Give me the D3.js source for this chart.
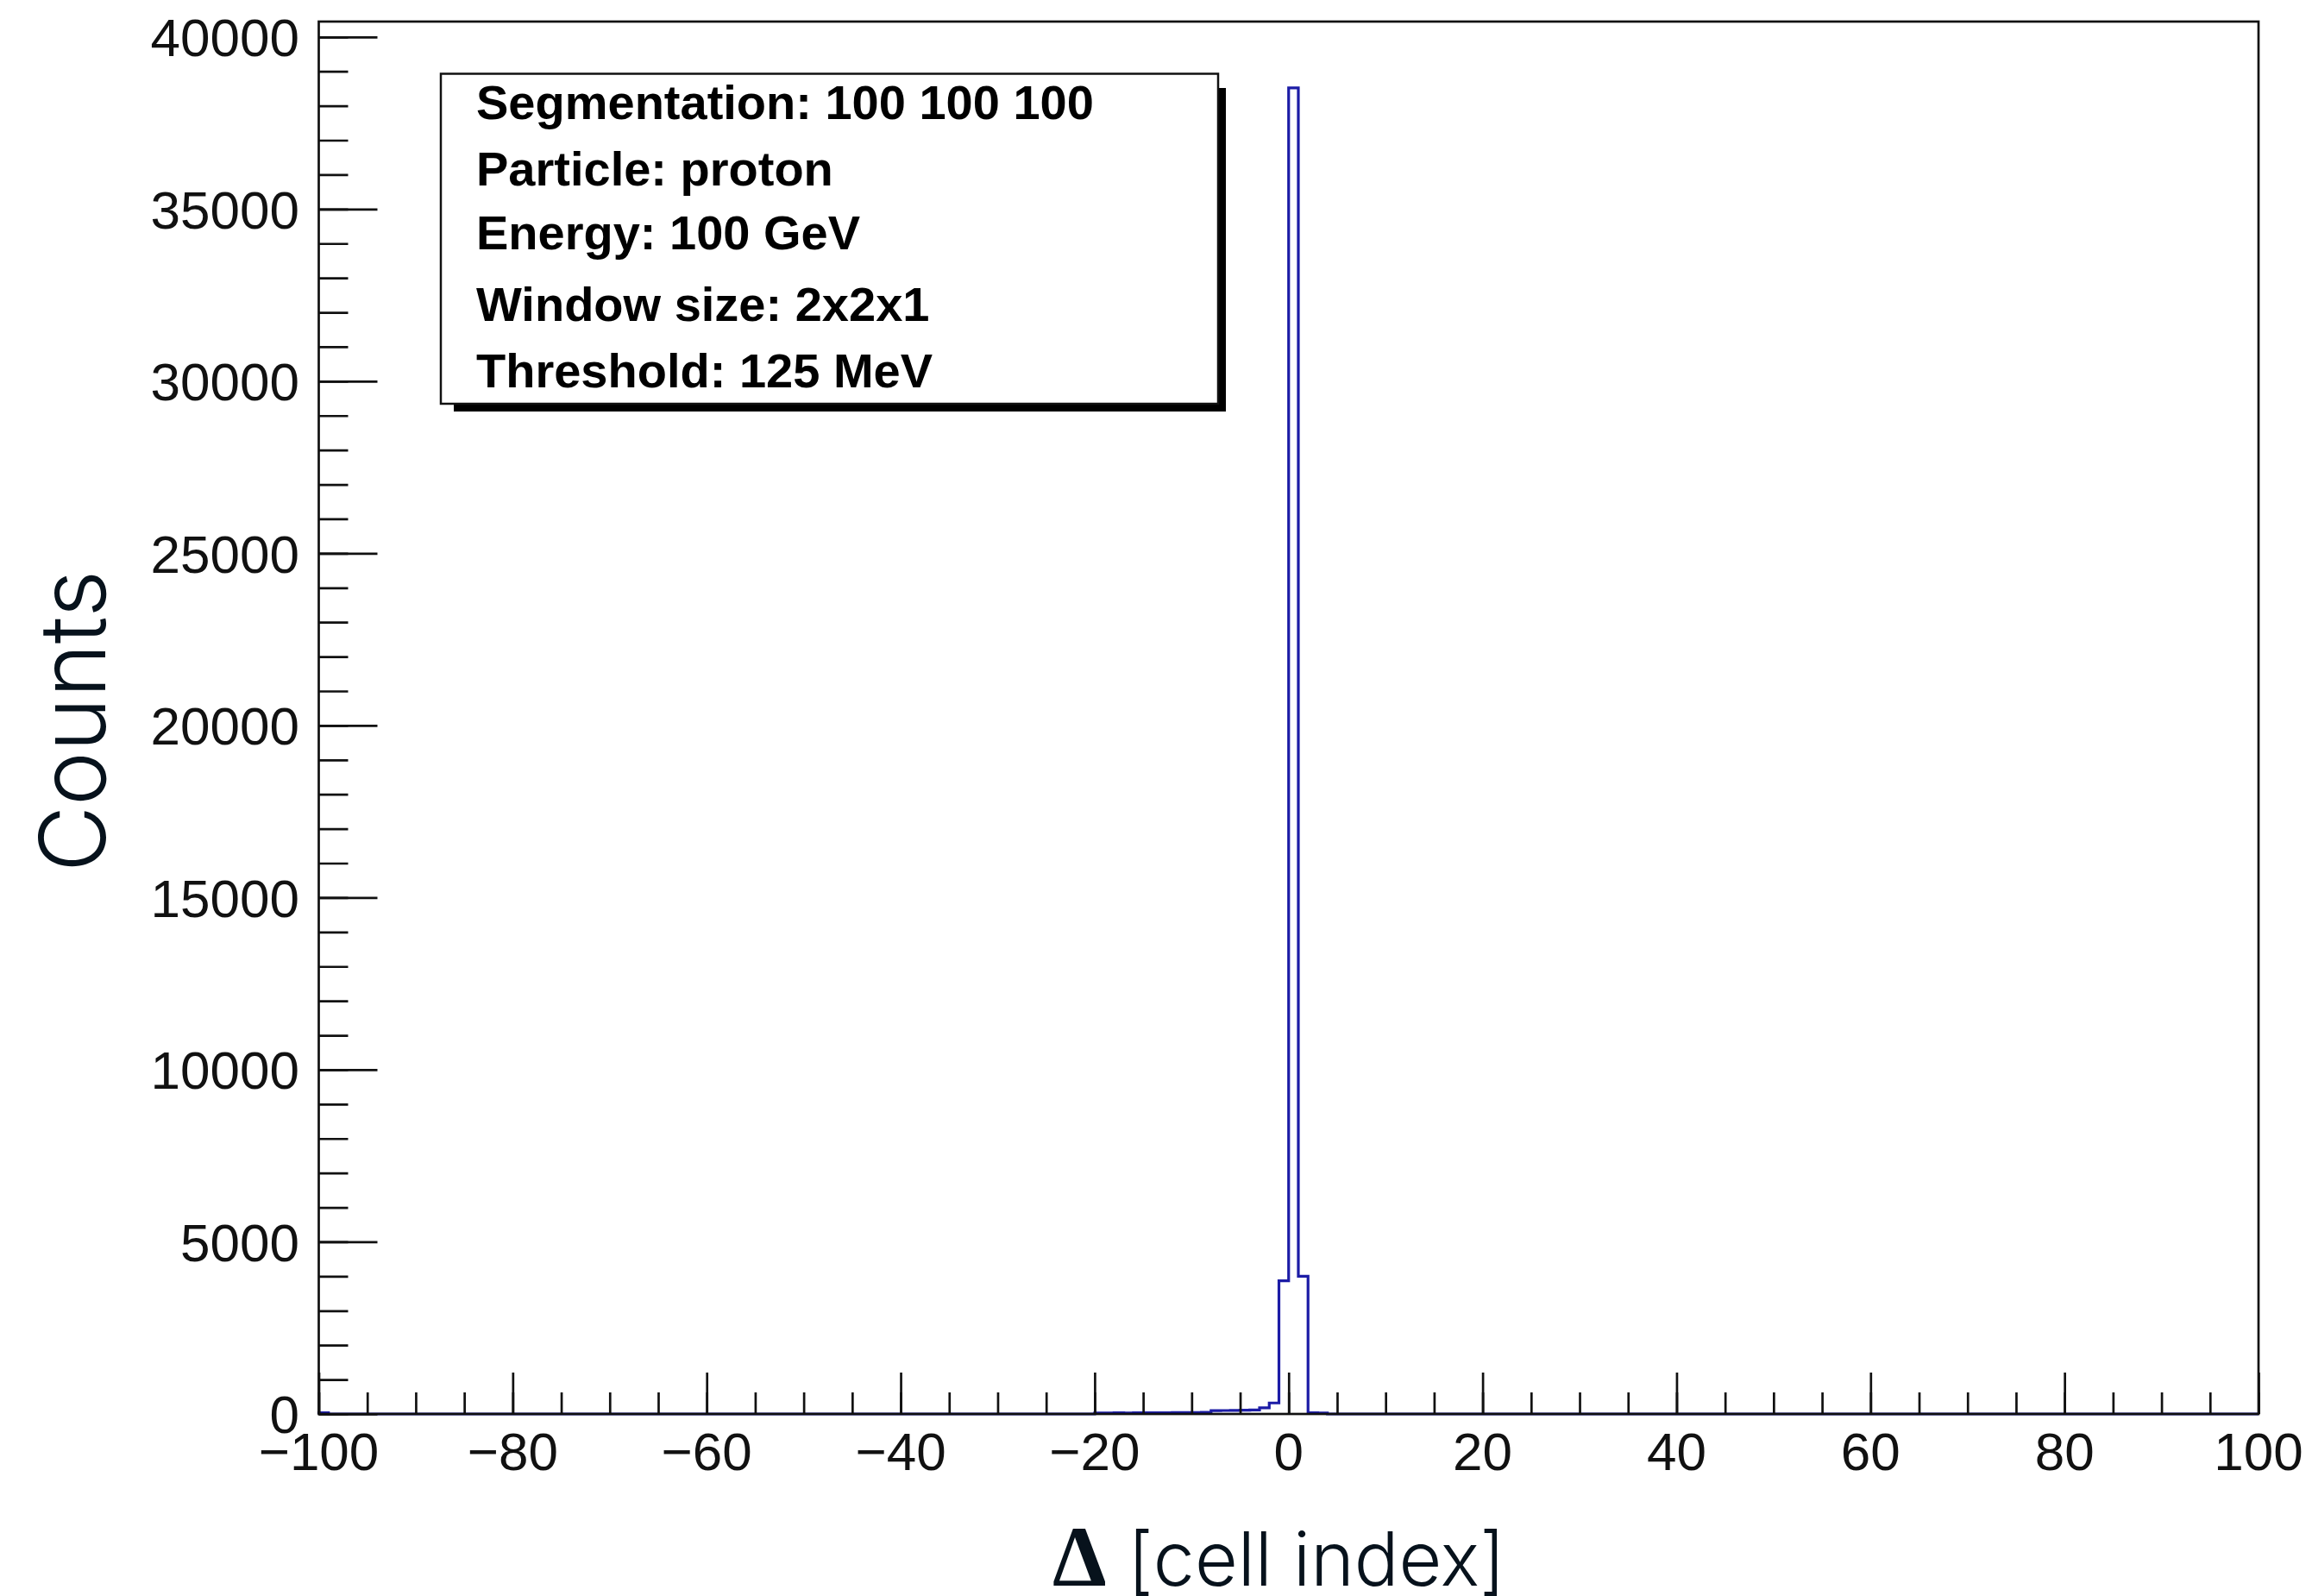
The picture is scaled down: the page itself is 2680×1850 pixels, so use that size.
<!DOCTYPE html>
<html>
<head>
<meta charset="utf-8">
<script src="https://cdn.jsdelivr.net/npm/d3@7"></script>
<style>
  html, body { margin: 0; padding: 0; background: #ffffff; }
  svg { display: block; }
</style>
</head>
<body>
<script>
// Histogram of the cell-index difference: 200 unit-wide bins from -100 to 100.
const xDomain = [-100, 100];
// Bins (by their lower edge) that hold any entries; every other bin is empty.
const filledBins = [-100, -20, -19, -18, -17, -16, -15, -14, -13, -12, -11, -10, -9,
                    -8, -7, -6, -5, -4, -3, -2, -1, 0, 1, 2, 3];
const filledCounts = [35, 28, 30, 32, 30, 34, 36, 33, 38, 40, 42, 40, 45,
                      95, 100, 105, 110, 115, 180, 320, 3870, 38520, 4000, 35, 30];

const xMajorTicks = [-100, -80, -60, -40, -20, 0, 20, 40, 60, 80, 100];
const yMajorTicks = [0, 5000, 10000, 15000, 20000, 25000, 30000, 35000, 40000];

const legendLines = [
  "Segmentation: 100 100 100",
  "Particle: proton",
  "Energy: 100 GeV",
  "Window size: 2x2x1",
  "Threshold: 125 MeV"
];

const xTitleSymbol = "Δ";
const xTitleText = " [cell index]";
const yTitleText = "Counts";

// ---- layout ----
const W = 2680, H = 1850;
const frame = { left: 369.5, right: 2618, top: 25, bottom: 1639 };
const ink = "#111111";
const titleInk = "#07121c";
const histColor = "#1c1ca6";

const svg = d3.select("body").append("svg")
  .attr("width", W).attr("height", H)
  .attr("viewBox", `0 0 ${W} ${H}`);

// Full bin content table (empty bins = 0)
const nBins = xDomain[1] - xDomain[0];
const contents = new Array(nBins).fill(0);
filledBins.forEach((b, i) => { contents[b - xDomain[0]] = filledCounts[i]; });

const yMax = 1.05 * d3.max(contents);

const x = d3.scaleLinear().domain(xDomain).range([frame.left, frame.right]);
const y = d3.scaleLinear().domain([0, yMax]).range([frame.bottom, frame.top]);

// ---- histogram outline ----
const pts = [{ e: xDomain[0], c: 0 }];
contents.forEach((c, i) => pts.push({ e: xDomain[0] + i, c }));
pts.push({ e: xDomain[1], c: contents[nBins - 1] });
pts.push({ e: xDomain[1], c: 0 });

const line = d3.line()
  .x(d => x(d.e))
  .y(d => y(d.c))
  .curve(d3.curveStepAfter);

svg.append("path")
  .attr("d", line(pts))
  .attr("fill", "none")
  .attr("stroke", histColor)
  .attr("stroke-width", 3.2)
  .attr("stroke-linejoin", "miter");

// ---- frame ----
svg.append("rect")
  .attr("x", frame.left).attr("y", frame.top)
  .attr("width", frame.right - frame.left)
  .attr("height", frame.bottom - frame.top)
  .attr("fill", "none")
  .attr("stroke", ink)
  .attr("stroke-width", 2.7);

// ---- y axis ----
const yMinor = d3.range(0, yMax, 1000);
const yAxisMajor = d3.axisRight(y).tickValues(yMajorTicks).tickSize(68).tickFormat("");
const yAxisMinor = d3.axisRight(y).tickValues(yMinor).tickSize(34).tickFormat("");
[yAxisMinor, yAxisMajor].forEach(ax => {
  const g = svg.append("g").attr("transform", `translate(${frame.left},0)`).call(ax);
  g.select(".domain").remove();
  g.selectAll("line").attr("stroke", ink).attr("stroke-width", 2.7);
});

svg.append("g").selectAll("text")
  .data(yMajorTicks)
  .join("text")
  .attr("x", 347)
  .attr("y", d => y(d))
  .attr("dy", "0.36em")
  .attr("text-anchor", "end")
  .attr("font-family", "'Liberation Sans', Arial, sans-serif")
  .attr("font-size", 62)
  .attr("fill", ink)
  .text(d => String(d));

// ---- x axis ----
const xMinor = d3.range(xDomain[0], xDomain[1] + 0.1, 5);
const xAxisMajor = d3.axisTop(x).tickValues(xMajorTicks).tickSize(48).tickFormat("");
const xAxisMinor = d3.axisTop(x).tickValues(xMinor).tickSize(25).tickFormat("");
[xAxisMinor, xAxisMajor].forEach(ax => {
  const g = svg.append("g").attr("transform", `translate(0,${frame.bottom})`).call(ax);
  g.select(".domain").remove();
  g.selectAll("line").attr("stroke", ink).attr("stroke-width", 2.7);
});

svg.append("g").selectAll("text")
  .data(xMajorTicks)
  .join("text")
  .attr("x", d => x(d))
  .attr("y", 1704)
  .attr("text-anchor", "middle")
  .attr("font-family", "'Liberation Sans', Arial, sans-serif")
  .attr("font-size", 62)
  .attr("fill", ink)
  .text(d => (d < 0 ? "\u2212" + Math.abs(d) : String(d)));

// ---- axis titles ----
svg.append("text")
  .attr("transform", "translate(122,836) rotate(-90)")
  .attr("text-anchor", "middle")
  .attr("font-family", "Inter, 'Open Sans', sans-serif")
  .attr("font-weight", 300)
  .attr("font-size", 106)
  .attr("fill", titleInk)
  .text(yTitleText);

const xt = svg.append("text")
  .attr("x", 1220)
  .attr("y", 1838)
  .attr("fill", titleInk);
xt.append("tspan")
  .attr("font-family", "'Liberation Serif', 'DejaVu Serif', serif")
  .attr("font-weight", 700)
  .attr("font-size", 100)
  .text(xTitleSymbol);
xt.append("tspan")
  .attr("font-family", "Inter, 'Open Sans', sans-serif")
  .attr("font-weight", 300)
  .attr("font-size", 86)
  .text(xTitleText);

// ---- info box with drop shadow ----
const box = { x0: 511, y0: 85.5, x1: 1412, y1: 468 };
svg.append("rect")
  .attr("x", 526).attr("y", 102)
  .attr("width", 1421 - 526).attr("height", 477 - 102)
  .attr("fill", "#000");
svg.append("rect")
  .attr("x", box.x0).attr("y", box.y0)
  .attr("width", box.x1 - box.x0).attr("height", box.y1 - box.y0)
  .attr("fill", "#fff")
  .attr("stroke", ink)
  .attr("stroke-width", 2.5);

const baselines = [138, 215, 289, 372, 449];
svg.append("g").selectAll("text")
  .data(legendLines)
  .join("text")
  .attr("x", 552)
  .attr("y", (d, i) => baselines[i])
  .attr("font-family", "'Liberation Sans', Arial, sans-serif")
  .attr("font-weight", 700)
  .attr("font-size", 56)
  .attr("fill", "#000")
  .text(d => d);
</script>
</body>
</html>
